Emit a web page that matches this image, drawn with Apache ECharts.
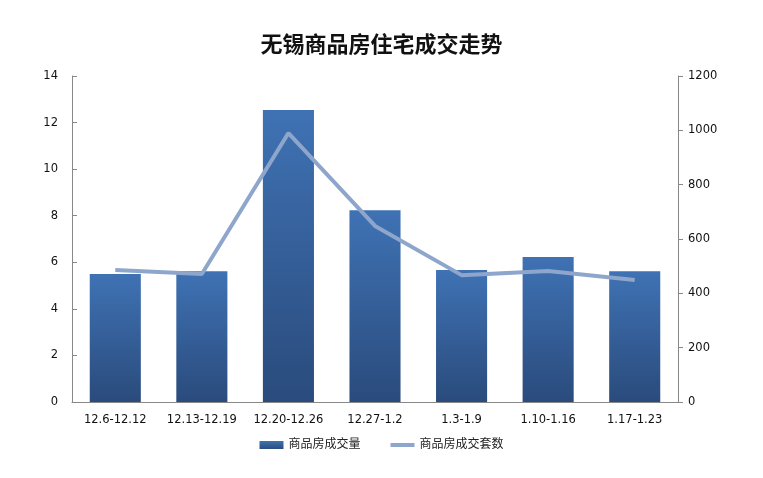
<!DOCTYPE html>
<html>
<head>
<meta charset="utf-8">
<script src="https://cdn.jsdelivr.net/npm/echarts@6/dist/echarts.min.js"></script>
<style>
  html,body{margin:0;padding:0;background:#fff;}
  #main{width:763px;height:478px;}
</style>
</head>
<body>
<div id="main"></div>
<script>
// 周次
var weeks = ['12.6-12.12', '12.13-12.19', '12.20-12.26', '12.27-1.2', '1.3-1.9', '1.10-1.16', '1.17-1.23'];
// 商品房成交量（左轴）
var volume = [5.5, 5.62, 12.54, 8.24, 5.67, 6.23, 5.62];
// 商品房成交套数（右轴）
var units = [486, 471, 990, 648, 467, 482, 449];
var leftTicks = [0, 14, 2];
var rightTicks = [0, 1200, 200];

var chart = echarts.init(document.getElementById('main'));
var font = 'Verdana, "DejaVu Sans", "Noto Sans CJK SC", sans-serif';
chart.setOption({
  animation: false,
  title: {
    text: '无锡商品房住宅成交走势',
    left: 'center',
    top: 28,
    textStyle: {fontFamily: '"Noto Sans CJK SC"', fontSize: 22, fontWeight: 'bold', color: '#111'}
  },
  legend: {
    bottom: 22,
    left: 'center',
    itemGap: 30,
    itemWidth: 24,
    itemHeight: 8,
    textStyle: {fontFamily: font, fontSize: 12, color: '#222'},
    data: [
      {name: '商品房成交量', icon: 'rect'},
      {name: '商品房成交套数', icon: 'path://M0,2 H24 V6 H0 Z'}
    ]
  },
  grid: {left: 72, right: 85, top: 76, bottom: 76},
  xAxis: {
    type: 'category',
    data: weeks,
    axisLine: {lineStyle: {color: '#888'}},
    axisTick: {show: false},
    axisLabel: {fontFamily: font, fontSize: 11.5, color: '#111', margin: 12, interval: 0}
  },
  yAxis: [
    {
      type: 'value',
      min: leftTicks[0], max: leftTicks[1], interval: leftTicks[2],
      axisLine: {show: true, lineStyle: {color: '#888'}},
      axisTick: {show: true, inside: true, length: 5, lineStyle: {color: '#888'}},
      splitLine: {show: false},
      axisLabel: {fontFamily: font, fontSize: 11.5, color: '#111', margin: 14}
    },
    {
      type: 'value',
      min: rightTicks[0], max: rightTicks[1], interval: rightTicks[2],
      position: 'right',
      axisLine: {show: true, lineStyle: {color: '#888'}},
      axisTick: {show: true, length: 5, lineStyle: {color: '#888'}},
      splitLine: {show: false},
      axisLabel: {fontFamily: font, fontSize: 11.5, color: '#111', margin: 10, formatter: function (v) { return String(v); }}
    }
  ],
  series: [
    {
      name: '商品房成交量',
      type: 'bar',
      barWidth: '59%',
      data: volume,
      itemStyle: {
        color: new echarts.graphic.LinearGradient(0, 0, 0, 1, [
          {offset: 0, color: '#3f72b4'},
          {offset: 1, color: '#2a4b7c'}
        ])
      }
    },
    {
      name: '商品房成交套数',
      type: 'line',
      yAxisIndex: 1,
      data: units,
      symbol: 'none',
      lineStyle: {color: '#8ea6cb', width: 4},
      itemStyle: {color: '#8ea6cb'}
    }
  ]
});
</script>
</body>
</html>
